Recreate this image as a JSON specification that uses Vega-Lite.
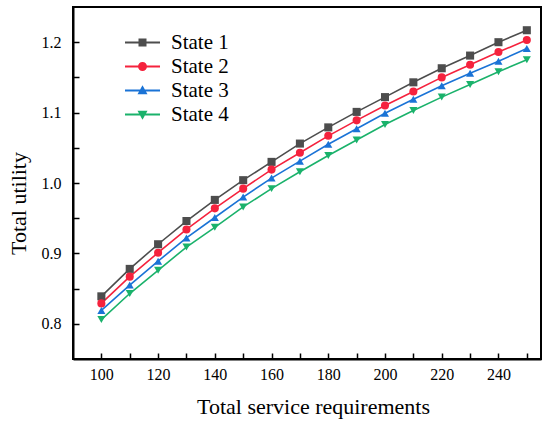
{
  "$schema": "https://vega.github.io/schema/vega-lite/v6.json",
  "width": 468,
  "height": 352,
  "autosize": {"type": "none"},
  "padding": {"left": 73, "top": 7, "right": 9, "bottom": 65},
  "background": "white",
  "data": {"values": [
    {"x": 100, "s": "State 1", "y": 0.839}, {"x": 110, "s": "State 1", "y": 0.878}, {"x": 120, "s": "State 1", "y": 0.913}, {"x": 130, "s": "State 1", "y": 0.946},
    {"x": 140, "s": "State 1", "y": 0.976}, {"x": 150, "s": "State 1", "y": 1.004}, {"x": 160, "s": "State 1", "y": 1.030}, {"x": 170, "s": "State 1", "y": 1.056},
    {"x": 180, "s": "State 1", "y": 1.079}, {"x": 190, "s": "State 1", "y": 1.101}, {"x": 200, "s": "State 1", "y": 1.122}, {"x": 210, "s": "State 1", "y": 1.143},
    {"x": 220, "s": "State 1", "y": 1.163}, {"x": 230, "s": "State 1", "y": 1.181}, {"x": 240, "s": "State 1", "y": 1.200}, {"x": 250, "s": "State 1", "y": 1.217},
    {"x": 100, "s": "State 2", "y": 0.829}, {"x": 110, "s": "State 2", "y": 0.867}, {"x": 120, "s": "State 2", "y": 0.901}, {"x": 130, "s": "State 2", "y": 0.934},
    {"x": 140, "s": "State 2", "y": 0.964}, {"x": 150, "s": "State 2", "y": 0.992}, {"x": 160, "s": "State 2", "y": 1.019}, {"x": 170, "s": "State 2", "y": 1.043},
    {"x": 180, "s": "State 2", "y": 1.067}, {"x": 190, "s": "State 2", "y": 1.089}, {"x": 200, "s": "State 2", "y": 1.110}, {"x": 210, "s": "State 2", "y": 1.130},
    {"x": 220, "s": "State 2", "y": 1.150}, {"x": 230, "s": "State 2", "y": 1.168}, {"x": 240, "s": "State 2", "y": 1.186}, {"x": 250, "s": "State 2", "y": 1.203},
    {"x": 100, "s": "State 3", "y": 0.819}, {"x": 110, "s": "State 3", "y": 0.855}, {"x": 120, "s": "State 3", "y": 0.889}, {"x": 130, "s": "State 3", "y": 0.922},
    {"x": 140, "s": "State 3", "y": 0.951}, {"x": 150, "s": "State 3", "y": 0.980}, {"x": 160, "s": "State 3", "y": 1.007}, {"x": 170, "s": "State 3", "y": 1.031},
    {"x": 180, "s": "State 3", "y": 1.055}, {"x": 190, "s": "State 3", "y": 1.077}, {"x": 200, "s": "State 3", "y": 1.099}, {"x": 210, "s": "State 3", "y": 1.119},
    {"x": 220, "s": "State 3", "y": 1.138}, {"x": 230, "s": "State 3", "y": 1.156}, {"x": 240, "s": "State 3", "y": 1.173}, {"x": 250, "s": "State 3", "y": 1.191},
    {"x": 100, "s": "State 4", "y": 0.806}, {"x": 110, "s": "State 4", "y": 0.843}, {"x": 120, "s": "State 4", "y": 0.876}, {"x": 130, "s": "State 4", "y": 0.909},
    {"x": 140, "s": "State 4", "y": 0.937}, {"x": 150, "s": "State 4", "y": 0.966}, {"x": 160, "s": "State 4", "y": 0.992}, {"x": 170, "s": "State 4", "y": 1.016},
    {"x": 180, "s": "State 4", "y": 1.039}, {"x": 190, "s": "State 4", "y": 1.061}, {"x": 200, "s": "State 4", "y": 1.083}, {"x": 210, "s": "State 4", "y": 1.103},
    {"x": 220, "s": "State 4", "y": 1.122}, {"x": 230, "s": "State 4", "y": 1.140}, {"x": 240, "s": "State 4", "y": 1.158}, {"x": 250, "s": "State 4", "y": 1.175}
  ]},
  "config": {
    "font": "Liberation Serif",
    "view": {"stroke": "black", "strokeWidth": 2},
    "axis": {
      "grid": false, "domainColor": "black", "domainWidth": 2,
      "tickColor": "black", "tickWidth": 1.5, "tickSize": -6,
      "labelFont": "Liberation Serif", "labelFontSize": 16, "labelColor": "black",
      "titleFont": "Liberation Serif", "titleFontSize": 22, "titleFontWeight": "normal", "titleColor": "black"
    },
    "legend": {"labelFont": "Liberation Serif", "labelFontSize": 21, "labelColor": "black"}
  },
  "encoding": {
    "x": {
      "field": "x", "type": "quantitative", "title": "Total service requirements",
      "scale": {"domain": [90, 255], "nice": false, "zero": false},
      "axis": {
        "values": [100, 110, 120, 130, 140, 150, 160, 170, 180, 190, 200, 210, 220, 230, 240, 250],
        "labelExpr": "datum.value % 20 == 0 ? datum.label : ''",
        "labelFont": "Liberation Serif",
        "labelPadding": 13, "labelFlush": false,
        "titleX": 240, "titleY": 54, "titleBaseline": "alphabetic"
      }
    },
    "y": {
      "field": "y", "type": "quantitative", "title": "Total utility",
      "scale": {"domain": [0.75, 1.25], "nice": false, "zero": false},
      "axis": {
        "values": [0.8, 0.85, 0.9, 0.95, 1.0, 1.05, 1.1, 1.15, 1.2],
        "labelExpr": "abs(datum.value * 10 - round(datum.value * 10)) < 0.001 ? format(datum.value, '.1f') : ''",
        "labelFont": "Liberation Serif",
        "labelPadding": 18,
        "titleAngle": -90, "titleX": -48, "titleY": 196, "titleAlign": "center", "titleBaseline": "alphabetic"
      }
    },
    "color": {
      "field": "s", "type": "nominal",
      "scale": {"domain": ["State 1", "State 2", "State 3", "State 4"], "range": ["#4d4d4d", "#f5223d", "#1a73d6", "#1ab26b"]},
      "legend": null
    }
  },
  "layer": [
    {"mark": {"type": "line", "strokeWidth": 1.6}},
    {
      "mark": {"type": "point", "filled": true, "size": 65, "opacity": 1},
      "encoding": {
        "shape": {
          "field": "s", "type": "nominal", "legend": null,
          "scale": {"domain": ["State 1", "State 2", "State 3", "State 4"], "range": ["square", "circle", "triangle-up", "triangle-down"]}
        }
      }
    },
    {
      "transform": [{"filter": "datum.x < 0"}],
      "mark": {"type": "point", "filled": true, "opacity": 1},
      "encoding": {
        "color": {
          "field": "s", "type": "nominal",
          "scale": {"domain": ["State 1", "State 2", "State 3", "State 4"], "range": ["#4d4d4d", "#f5223d", "#1a73d6", "#1ab26b"]},
          "legend": {"title": null, "orient": "none", "legendX": 59, "legendY": 25,
            "labelFont": "Liberation Serif", "labelFontSize": 21, "labelColor": "black",
            "symbolSize": 100, "symbolStrokeWidth": 0, "symbolOpacity": 1, "labelOffset": 18, "rowPadding": 2}
        },
        "shape": {
          "field": "s", "type": "nominal",
          "scale": {"domain": ["State 1", "State 2", "State 3", "State 4"], "range": [
            "M-3.5,-0.18H3.5V0.18H-3.5Z M-0.8,-0.8H0.8V0.8H-0.8Z",
            "M-3.5,-0.18H3.5V0.18H-3.5Z M-0.9,0A0.9,0.9,0,1,1,0.9,0A0.9,0.9,0,1,1,-0.9,0Z",
            "M-3.5,-0.18H3.5V0.18H-3.5Z M0,-1.05L1,0.75H-1Z",
            "M-3.5,-0.18H3.5V0.18H-3.5Z M0,1.05L-1,-0.75H1Z"
          ]},
          "legend": {"title": null, "orient": "none", "legendX": 59, "legendY": 25,
            "labelFont": "Liberation Serif", "labelFontSize": 21, "labelColor": "black",
            "symbolSize": 100, "symbolStrokeWidth": 0, "symbolOpacity": 1, "labelOffset": 18, "rowPadding": 2}
        }
      }
    }
  ],
  "resolve": {"scale": {"shape": "independent", "color": "independent"}}
}
